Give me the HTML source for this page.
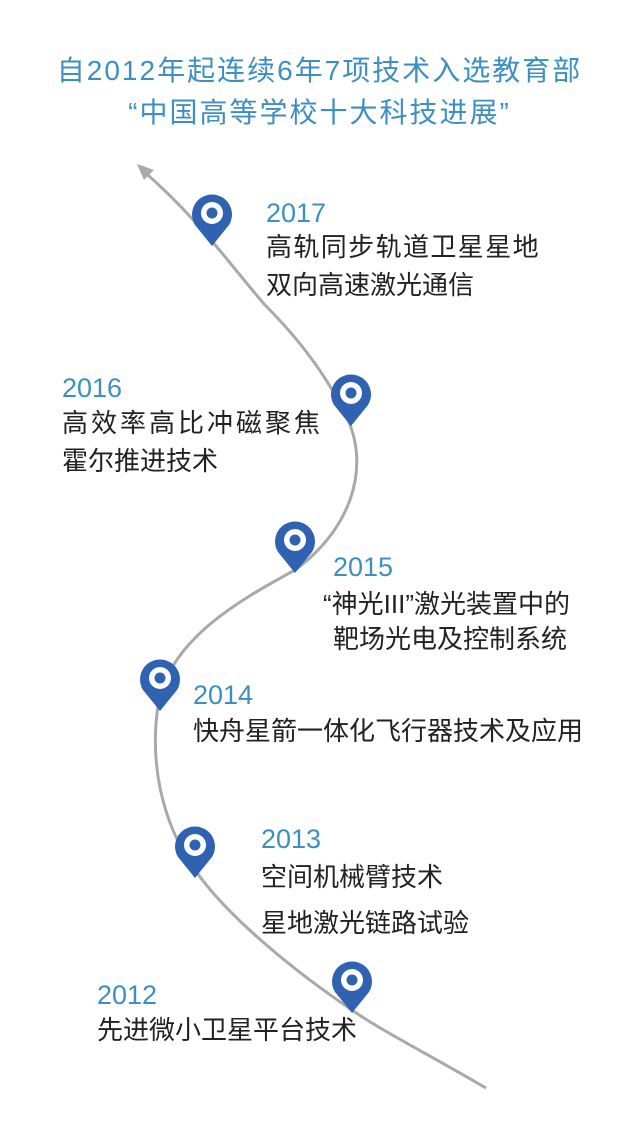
<!DOCTYPE html>
<html><head><meta charset="utf-8"><style>
body{margin:0;width:639px;height:1137px;background:#fff;position:relative;overflow:hidden;font-family:"Liberation Sans","Noto Sans CJK SC",sans-serif}
.t{position:absolute;left:0;width:639px;text-align:center;color:#3d8fc1;font-size:28px;line-height:36px;letter-spacing:2px}
.y{position:absolute;color:#3d8fc1;font-size:27px;line-height:30px}
.d{position:absolute;color:#222;font-size:26px;line-height:37px;white-space:nowrap}
</style></head><body>
<div class="t" style="top:53px">自2012年起连续6年7项技术入选教育部</div>
<div class="t" style="top:95px">“中国高等学校十大科技进展”</div>
<svg width="639" height="1137" style="position:absolute;left:0;top:0">
<path d="M486,1088 C430,1055 380,1030 352,1010 C300,975 230,920 195,870 C160,820 150,760 158,706 C168,640 240,600 295,570 C350,530 370,470 348,420 C325,370 290,330 265,305 C230,265 200,220 140,168" fill="none" stroke="#a9a9a9" stroke-width="3"/>
<path d="M137,164 L154,170 L144,180 Z" fill="#a9a9a9"/>
<g fill="#2f63b2">
<g transform="translate(212,213)"><path d="M0,33 L-17,12 A20,20 0 1 1 17,12 Z"/><circle r="11" fill="#fff"/><circle r="5.5"/></g>
<g transform="translate(351,393)"><path d="M0,33 L-17,12 A20,20 0 1 1 17,12 Z"/><circle r="11" fill="#fff"/><circle r="5.5"/></g>
<g transform="translate(295,540)"><path d="M0,33 L-17,12 A20,20 0 1 1 17,12 Z"/><circle r="11" fill="#fff"/><circle r="5.5"/></g>
<g transform="translate(160,678)"><path d="M0,33 L-17,12 A20,20 0 1 1 17,12 Z"/><circle r="11" fill="#fff"/><circle r="5.5"/></g>
<g transform="translate(195,845)"><path d="M0,33 L-17,12 A20,20 0 1 1 17,12 Z"/><circle r="11" fill="#fff"/><circle r="5.5"/></g>
<g transform="translate(352,980)"><path d="M0,33 L-17,12 A20,20 0 1 1 17,12 Z"/><circle r="11" fill="#fff"/><circle r="5.5"/></g>
</g>
</svg>
<div class="y" style="left:266px;top:198px">2017</div>
<div class="d" style="left:266px;top:229px;letter-spacing:1.4px">高轨同步轨道卫星星地</div>
<div class="d" style="left:266px;top:267px">双向高速激光通信</div>
<div class="y" style="left:62px;top:373px">2016</div>
<div class="d" style="left:62px;top:405px;letter-spacing:3px">高效率高比冲磁聚焦</div>
<div class="d" style="left:62px;top:443px">霍尔推进技术</div>
<div class="y" style="left:333px;top:552px">2015</div>
<div class="d" style="left:323px;top:586px">“神光III”激光装置中的</div>
<div class="d" style="left:333px;top:621px">靶场光电及控制系统</div>
<div class="y" style="left:193px;top:680px">2014</div>
<div class="d" style="left:193px;top:713px">快舟星箭一体化飞行器技术及应用</div>
<div class="y" style="left:261px;top:824px">2013</div>
<div class="d" style="left:261px;top:859px">空间机械臂技术</div>
<div class="d" style="left:261px;top:905px">星地激光链路试验</div>
<div class="y" style="left:97px;top:980px">2012</div>
<div class="d" style="left:97px;top:1012px">先进微小卫星平台技术</div>
</body></html>
